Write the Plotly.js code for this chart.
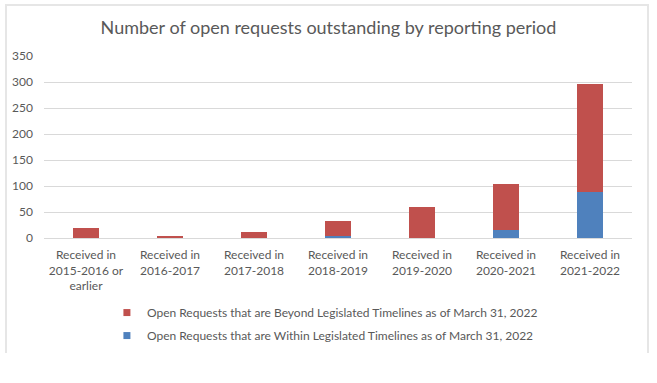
<!DOCTYPE html>
<html>
<head>
<meta charset="utf-8">
<script src="https://cdn.plot.ly/plotly-3.0.1.min.js"></script>
<style>
html,body{margin:0;padding:0;background:#fff;}
#frame{position:absolute;left:5px;top:4px;width:644px;height:349px;border-left:2px solid #e6e6e6;border-top:2px solid #e6e6e6;border-right:2px solid #e6e6e6;box-sizing:border-box;}
#chart{position:absolute;left:0;top:0;width:657px;height:383px;}
</style>
</head>
<body>
<div id="frame"></div>
<div id="chart"></div>
<script>
const categories = [
  "Received in<br>2015-2016 or<br>earlier",
  "Received in<br>2016-2017",
  "Received in<br>2017-2018",
  "Received in<br>2018-2019",
  "Received in<br>2019-2020",
  "Received in<br>2020-2021",
  "Received in<br>2021-2022"
];
const withinValues = [0, 0, 0, 4, 0, 15, 89];
const beyondValues = [20, 4, 12, 28, 59, 89, 207];
const withinName = "Open Requests that are Within Legislated Timelines as of March 31, 2022";
const beyondName = "Open Requests that are Beyond Legislated Timelines as of March 31, 2022";
const titleText = "Number of open requests outstanding by reporting period";
const blue = "#4f81bd";
const red = "#c0504d";

const font = "Lato, 'Open Sans', sans-serif";
const gray = "#595959";

const data = [
  {type: "bar", x: categories, y: withinValues, name: withinName, marker: {color: blue}, showlegend: false},
  {type: "bar", x: categories, y: beyondValues, name: beyondName, marker: {color: red}, showlegend: false},
  {type: "scatter", mode: "markers", x: [null], y: [null], name: beyondName, marker: {color: red, symbol: "square", size: 7}, legendgroup: "a"},
  {type: "scatter", mode: "markers", x: [null], y: [null], name: withinName, marker: {color: blue, symbol: "square", size: 7}, legendgroup: "b"}
];

const layout = {
  width: 657, height: 383,
  paper_bgcolor: "rgba(0,0,0,0)", plot_bgcolor: "rgba(0,0,0,0)",
  barmode: "stack", bargap: 0.69,
  margin: {l: 44, r: 25, t: 56, b: 145},
  font: {family: font, color: gray, size: 12},
  title: {text: titleText, font: {family: font, size: 18, color: gray}, x: 0.5, xanchor: "center", y: 0.927, yanchor: "middle"},
  xaxis: {type: "category", showgrid: false, showline: false, ticks: "", ticklabelstandoff: 8, tickfont: {size: 12, color: gray}, tickangle: 0, automargin: false},
  yaxis: {range: [0, 350], dtick: 50, showgrid: true, gridcolor: "#d9d9d9", gridwidth: 1, zeroline: true, zerolinecolor: "#d9d9d9", zerolinewidth: 1, showline: false, ticks: "", ticklabelstandoff: 10, tickfont: {size: 12, color: gray}, automargin: false},
  showlegend: true,
  legend: {orientation: "v", x: 0.107, xanchor: "left", y: -0.33, yanchor: "top", traceorder: "grouped", tracegroupgap: 4, itemwidth: 30, font: {size: 12, color: gray}, bgcolor: "rgba(0,0,0,0)"}
};

Plotly.newPlot("chart", data, layout, {displayModeBar: false, staticPlot: true});
</script>
</body>
</html>
